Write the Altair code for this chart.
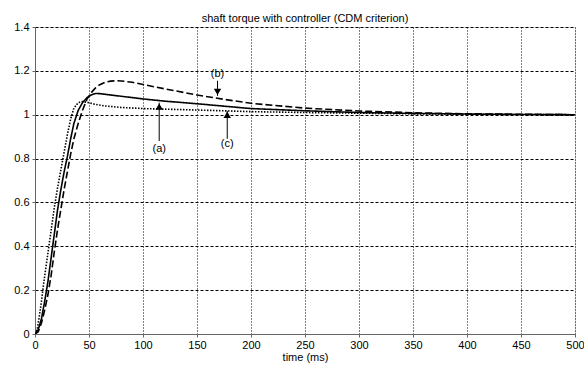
import altair as alt
import pandas as pd

# (a) solid
t_a = [0, 3, 6, 9, 12, 15, 18, 21, 24, 27, 30, 33, 36, 40, 44, 48, 52, 56, 60, 70, 80, 100, 120, 150, 175, 200, 250, 300, 350, 400, 450, 500]
v_a = [0, 0.02, 0.07, 0.15, 0.24, 0.35, 0.46, 0.57, 0.66, 0.74, 0.81, 0.89, 0.96, 1.02, 1.055, 1.077, 1.09, 1.097, 1.096, 1.09, 1.084, 1.072, 1.062, 1.05, 1.039, 1.028, 1.018, 1.01, 1.006, 1.003, 1.001, 1.0]
# (b) dashed
t_b = [0, 3, 6, 9, 12, 15, 18, 21, 24, 27, 30, 33, 36, 40, 44, 48, 52, 56, 60, 65, 70, 75, 80, 90, 100, 120, 150, 175, 200, 250, 300, 350, 400, 450, 500]
v_b = [0, 0.01, 0.05, 0.11, 0.18, 0.27, 0.38, 0.48, 0.57, 0.66, 0.74, 0.82, 0.89, 0.96, 1.02, 1.07, 1.1, 1.122, 1.137, 1.148, 1.153, 1.155, 1.154, 1.148, 1.138, 1.118, 1.09, 1.07, 1.052, 1.03, 1.017, 1.009, 1.004, 1.002, 1.0]
# (c) dotted
t_c = [0, 2, 4, 6, 8, 10, 12, 14, 16, 18, 21, 24, 27, 30, 33, 36, 40, 44, 48, 55, 65, 80, 100, 130, 160, 200, 250, 300, 350, 400, 450, 500]
v_c = [0, 0.02, 0.08, 0.15, 0.23, 0.3, 0.37, 0.44, 0.51, 0.58, 0.67, 0.75, 0.83, 0.91, 0.98, 1.03, 1.055, 1.06, 1.057, 1.048, 1.04, 1.033, 1.028, 1.024, 1.02, 1.014, 1.01, 1.007, 1.004, 1.002, 1.001, 1.0]

# annotations
ann_labels = ["(a)", "(b)", "(c)"]
ann_t = [115, 169, 178]
ann_label_y = [0.845, 1.186, 0.867]
ann_tail_y = [0.88, 1.155, 0.89]
ann_tip_y = [1.055, 1.086, 1.018]
ann_dir = ["up", "down", "up"]

FONT = "Liberation Sans"

df = pd.concat([
    pd.DataFrame({"t": t_a, "v": v_a, "s": "a"}),
    pd.DataFrame({"t": t_b, "v": v_b, "s": "b"}),
    pd.DataFrame({"t": t_c, "v": v_c, "s": "c"}),
])
ann = pd.DataFrame({"lab": ann_labels, "t": ann_t, "ly": ann_label_y,
                    "y0": ann_tail_y, "y1": ann_tip_y, "dir": ann_dir})

xs = alt.Scale(domain=[0, 500], nice=False, zero=False)
ys = alt.Scale(domain=[0, 1.4], nice=False, zero=False)

lines = alt.Chart(df).mark_line(color="black", strokeWidth=1.6, clip=True).encode(
    x=alt.X("t:Q", scale=xs, title="time (ms)",
            axis=alt.Axis(values=list(range(0, 501, 50)), grid=True, gridDash=[1, 2],
                          gridColor="black", gridOpacity=1, gridWidth=1,
                          labelFont=FONT, labelFontSize=11, titleFont=FONT, titleFontSize=11,
                          titleFontWeight="normal", domainColor="#666", tickColor="#666",
                          tickSize=3, labelPadding=2, titlePadding=1, labelFlush=False)),
    y=alt.Y("v:Q", scale=ys, title=None,
            axis=alt.Axis(values=[0, 0.2, 0.4, 0.6, 0.8, 1.0, 1.2, 1.4], grid=True, gridDash=[3, 2],
                          gridColor="black", gridOpacity=1, gridWidth=1, format=".1~f",
                          labelFont=FONT, labelFontSize=11, domainColor="#666", tickColor="#666",
                          tickSize=3, labelPadding=3)),
    strokeDash=alt.StrokeDash("s:N", scale=alt.Scale(domain=["a", "b", "c"],
                                                      range=[[1, 0], [7, 3], [1.5, 1.5]]), legend=None),
)

rules = alt.Chart(ann).mark_rule(color="black", strokeWidth=1).encode(
    x="t:Q", y="y0:Q", y2="y1:Q")

heads_up = alt.Chart(ann).transform_filter(alt.datum.dir == "up").mark_point(
    shape="triangle-up", filled=True, color="black", opacity=1, size=55, yOffset=4).encode(
    x="t:Q", y="y1:Q")
heads_down = alt.Chart(ann).transform_filter(alt.datum.dir == "down").mark_point(
    shape="triangle-down", filled=True, color="black", opacity=1, size=55, yOffset=-4).encode(
    x="t:Q", y="y1:Q")

labels = alt.Chart(ann).mark_text(font=FONT, fontSize=11, color="black").encode(
    x="t:Q", y="ly:Q", text="lab:N")

chart = alt.layer(lines, rules, heads_up, heads_down, labels).properties(
    width=540, height=307,
    title=alt.TitleParams("shaft torque with controller (CDM criterion)", font=FONT,
                          fontSize=11, fontWeight="normal", offset=0, dy=3),
    padding={"left": 35, "top": 27, "right": 9, "bottom": 31},
    autosize=alt.AutoSizeParams(type="none"),
).configure_view(stroke="#666", strokeWidth=1).configure(background="white")

chart.save("out.html", embed_options={"renderer": "svg", "actions": False})
